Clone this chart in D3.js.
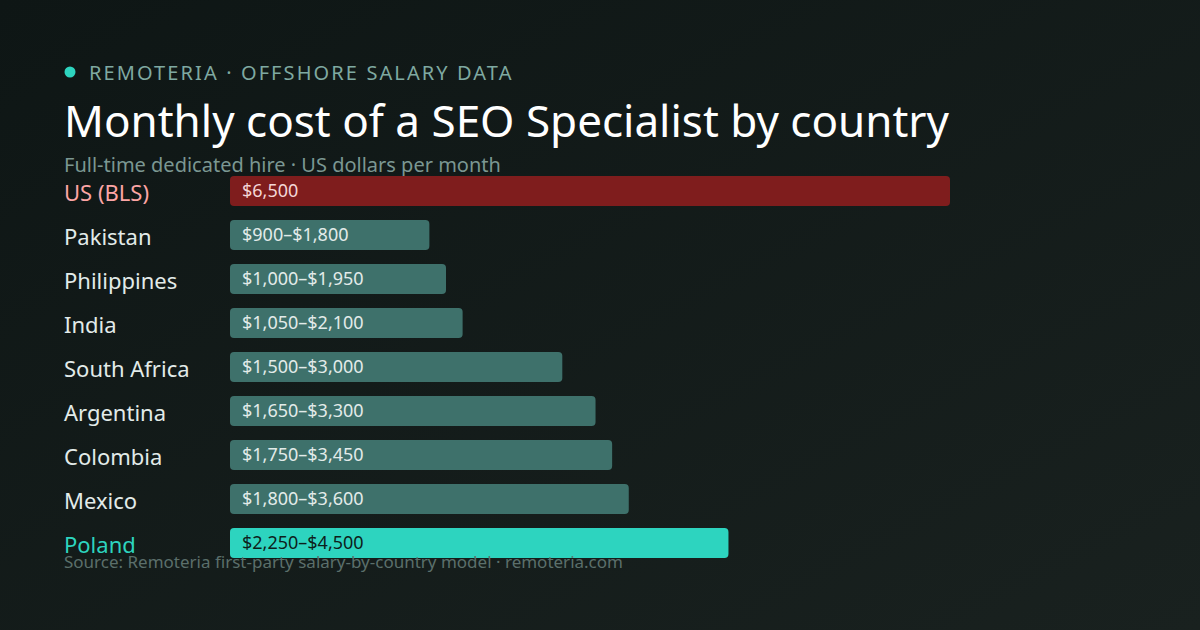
<!DOCTYPE html>
<html><head><meta charset="utf-8">
<script src="https://cdn.jsdelivr.net/npm/d3@7"></script>
<style>html,body{margin:0;padding:0;background:#111a19;}svg{display:block;}</style>
</head><body>
<svg id="c" width="1200" height="630"></svg>
<script>
const categories = ["US (BLS)","Pakistan","Philippines","India","South Africa","Argentina","Colombia","Mexico","Poland"];
const lowValues = [6500,900,1000,1050,1500,1650,1750,1800,2250];
const highValues = [6500,1800,1950,2100,3000,3300,3450,3600,4500];
const valueLabels = ["$6,500","$900–$1,800","$1,000–$1,950","$1,050–$2,100","$1,500–$3,000","$1,650–$3,300","$1,750–$3,450","$1,800–$3,600","$2,250–$4,500"];
const kinds = ["us","mid","mid","mid","mid","mid","mid","mid","hl"];

const svg = d3.select("#c");
const defs = svg.append("defs");
const g = defs.append("linearGradient").attr("id","bg").attr("x1","0").attr("y1","0").attr("x2","1").attr("y2","1");
g.append("stop").attr("offset","0").attr("stop-color","#0e1615");
g.append("stop").attr("offset","1").attr("stop-color","#19211f");
svg.append("rect").attr("width",1200).attr("height",630).attr("fill","url(#bg)");

const font = "'Noto Sans', 'Open Sans', sans-serif";
svg.append("circle").attr("cx",70).attr("cy",72).attr("r",5.5).attr("fill","#2dd4bf");
svg.append("text").attr("x",89).attr("y",79.5).attr("font-family",font).attr("font-size",20)
  .attr("letter-spacing","2.1px").attr("fill","#7fa9a1").text("REMOTERIA · OFFSHORE SALARY DATA");
svg.append("text").attr("x",64).attr("y",137).attr("font-family",font).attr("font-size",44)
  .attr("fill","#ffffff").text("Monthly cost of a SEO Specialist by country");
svg.append("text").attr("x",64).attr("y",172).attr("font-family",font).attr("font-size",20)
  .attr("fill","#7b9792").text("Full-time dedicated hire · US dollars per month");

const x = d3.scaleLinear().domain([0,6500]).range([230,950]);
const y = d3.scaleBand().domain(categories).range([176,558]).paddingInner(14/44).paddingOuter(0);
const fill = {us:"#7f1d1d", mid:"#3e716b", hl:"#2dd4bf"};
const labelFill = {us:"#fca5a5", mid:"#e2ebe9", hl:"#2dd4bf"};
const valFill = {us:"#f3d6d6", mid:"#e2ebe9", hl:"#0d1f1c"};

const rows = svg.append("g").selectAll("g").data(categories).join("g");
rows.append("rect").attr("x",x(0)).attr("y",d=>y(d)).attr("height",y.bandwidth())
  .attr("width",(d,i)=>x(highValues[i])-x(0)).attr("rx",4).attr("fill",(d,i)=>fill[kinds[i]]);
rows.append("text").attr("x",64).attr("y",d=>y(d)+y.bandwidth()/2+10).attr("font-family",font)
  .attr("font-size",22).attr("fill",(d,i)=>labelFill[kinds[i]]).text(d=>d);
rows.append("text").attr("x",x(0)+12).attr("y",d=>y(d)+y.bandwidth()/2+6).attr("font-family",font)
  .attr("font-size",18).attr("fill",(d,i)=>valFill[kinds[i]]).text((d,i)=>valueLabels[i]);

svg.append("text").attr("x",64).attr("y",568).attr("font-family",font).attr("font-size",17)
  .attr("fill","#5b6f6b").text("Source: Remoteria first-party salary-by-country model · remoteria.com");
</script>
</body></html>
